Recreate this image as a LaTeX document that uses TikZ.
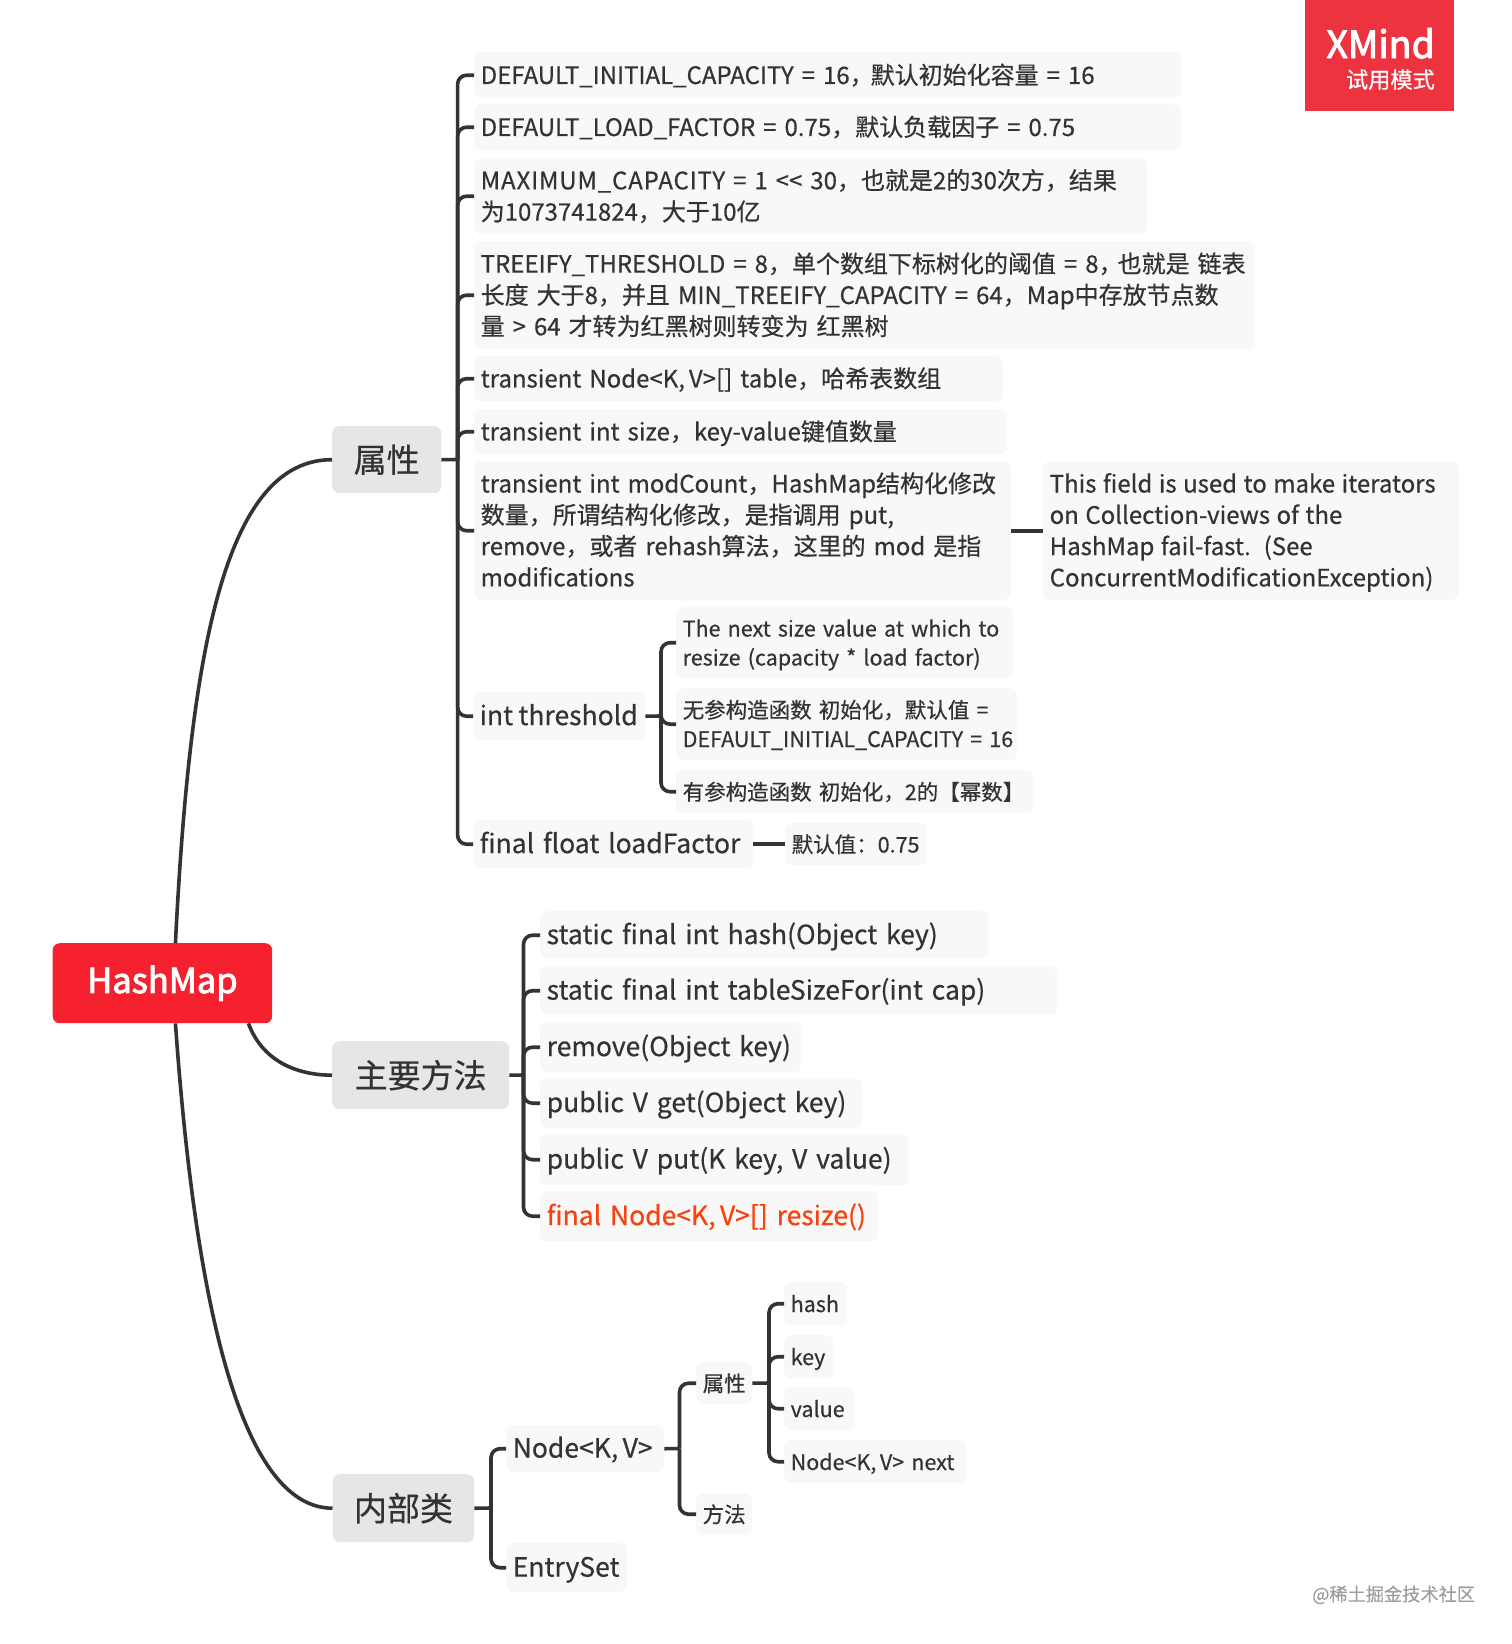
\documentclass[tikz,border=0pt]{standalone}
\usepackage{fontspec}
\setmainfont{Noto Sans CJK SC}[FakeBold=0.5]
\newfontfamily\medfont{Noto Sans CJK SC}[FakeBold=2.5]
\usetikzlibrary{calc}
\definecolor{ink}{HTML}{333333}
\definecolor{lightbox}{HTML}{F8F8F8}
\definecolor{topicbox}{HTML}{E6E6E6}
\definecolor{rootred}{HTML}{F6212F}
\definecolor{xmred}{HTML}{EE3340}
\definecolor{hot}{HTML}{F5420F}
\tikzset{
  basebox/.style={rectangle,rounded corners=7pt,inner xsep=6.5pt,inner ysep=0pt,text=ink},
  item/.style={basebox,fill=lightbox,font=\fontsize{24}{31.3}\selectfont},
  itemb/.style={basebox,fill=lightbox,font=\fontsize{26.5}{32}\selectfont},
  items/.style={basebox,fill=lightbox,font=\fontsize{21.5}{29}\selectfont},
  topic/.style={basebox,fill=topicbox,font=\fontsize{33}{38}\selectfont},
  rootbox/.style={basebox,fill=rootred,text=white,font=\fontsize{34.5}{38}\medfont},
  conn/.style={draw=ink,line width=3.6pt},
  brk/.style={draw=ink,line width=3.6pt,rounded corners=9pt},
}
\def\myskip{.333em}
\newcommand\mybox[7]{%
  \pgfmathsetmacro\bw{#4-#2}\pgfmathsetmacro\bh{#5-#3}\pgfmathsetmacro\tw{#4-#2-13}%
  \node[#6,minimum width=\bw pt,minimum height=\bh pt,anchor=north west] (#1) at (#2,#3)
    {\makebox[\tw pt][l]{\spaceskip=\myskip\relax\vbox{\kern5pt\hbox{\begin{tabular}{@{}l@{}}#7\end{tabular}}}}};}
\newcommand\mytopic[6]{%
  \pgfmathsetmacro\bw{#4-#2}\pgfmathsetmacro\bh{#5-#3}%
  \node[#6,minimum width=\bw pt,minimum height=\bh pt,anchor=north west] (#1) at (#2,#3)}
\begin{document}
\begin{tikzpicture}[x=1pt,y=-1pt]
\useasboundingbox (0,0) rectangle (1512,1644);
% XMind badge
\node[fill=xmred,rectangle,minimum width=149.5pt,minimum height=111pt,anchor=north west,inner sep=0pt] (xm) at (1304.5,0) {};
\node[text=white,anchor=base east,inner sep=0pt,font=\fontsize{37.5}{42}\medfont] (xmt) at (1435,58) {XMind};
\node[text=white,anchor=base east,inner sep=0pt,font=\fontsize{22.2}{25}\selectfont] (xms) at (1435,88) {试用模式};
% root and topics
\mytopic{hm}{52.5}{943}{272}{1023}{rootbox}{HashMap};
\mytopic{attr}{332}{426}{441}{493}{topic}{属性};
\mytopic{meth}{332}{1041}{509}{1109}{topic}{主要方法};
\mytopic{inner}{332.5}{1474}{474}{1542}{topic}{内部类};
% attributes
\mybox{a1}{474}{52}{1181}{98}{item}{DEFAULT\_INITIAL\_CAPACITY = 16，\kern-3pt 默认初始化容量 = 16}
\mybox{a2}{474}{104}{1181}{150}{item}{DEFAULT\_LOAD\_FACTOR = 0.75，默认负载因子 = 0.75}
\mybox{a3}{474}{158}{1147}{234}{item}{{\addfontfeatures{LetterSpace=3.5}MAXIMUM\_CAPACITY} = 1 <{}< 30，也就是2的30次方，结果\\为1073741824，大于10亿}
\mybox{a4}{474}{241}{1255}{349}{item}{TREEIFY\_THRESHOLD = 8，单个数组下标树化的阈值 = 8，\kern-5pt 也就是 链表\\长度 大于8，并且 MIN\_TREEIFY\_CAPACITY = 64，Map中存放节点数\\量 > 64 才转为红黑树则转变为 红黑树}
\mybox{a5}{474}{356}{1003}{401}{item}{transient Node<K,\,V>[] table，哈希表数组}
\mybox{a6}{474}{409}{1007}{454}{item}{transient int size，key-value键值数量}
\mybox{a7}{474}{461}{1011}{600}{item}{transient int modCount，HashMap结构化修改\\数量，所谓结构化修改，是指调用 put,\\remove，或者 rehash算法，这里的 mod 是指\\modifications}
\def\myskip{.27em}
\mybox{a7r}{1043}{461}{1459}{600}{item}{This field is used to make iterators\\on Collection-views of the\\HashMap fail-fast.~~(See\\ConcurrentModificationException)}
\def\myskip{.2em}
\mybox{th}{473}{692}{645}{740}{itemb}{int threshold}
\def\myskip{.333em}
\mybox{t1}{676}{607}{1013}{678}{items}{The next size value at which to\\resize (capacity * load factor)}
\mybox{t2}{676}{688}{1017}{760}{items}{无参构造函数 初始化，默认值 =\\DEFAULT\_INITIAL\_CAPACITY = 16}
\mybox{t3}{676}{770}{1033}{813}{items}{有参构造函数 初始化，2的【幂数】}
\mybox{lf}{473}{820}{753}{868}{itemb}{final float loadFactor}
\mybox{df}{785}{823}{927}{865}{items}{默认值：0.75}
% methods
\mybox{m1}{540}{911}{988}{959}{itemb}{static final int hash(Object key)}
\mybox{m2}{540}{966}{1057}{1015}{itemb}{static final int tableSizeFor(int cap)}
\mybox{m3}{540}{1022}{801}{1072}{itemb}{remove(Object key)}
\mybox{m4}{540}{1078}{862}{1128}{itemb}{public V get(Object key)}
\mybox{m5}{540}{1134}{908}{1185}{itemb}{public V put(K key, V value)}
\mybox{m6}{540}{1191}{878}{1241}{itemb,text=hot}{final Node<K,\,V>[] resize()}
% inner classes
\mybox{nk}{506}{1425}{664}{1472}{itemb}{Node<K,\,V>}
\mybox{es}{506}{1543}{627}{1592}{itemb}{EntrySet}
\mybox{ps}{696}{1362}{752}{1404}{items}{属性}
\mybox{ms}{696}{1493}{752}{1535}{items}{方法}
\mybox{n1}{784}{1282}{847}{1325}{items}{hash}
\mybox{n2}{784}{1335}{833}{1378}{items}{key}
\mybox{n3}{784}{1387}{854}{1430}{items}{value}
\mybox{n4}{784}{1440}{966}{1483}{items}{Node<K,\,V> next}
% watermark
\node[text=black!38,anchor=base west,inner sep=0pt,font=\fontsize{18.2}{22}\selectfont] (wm) at (1312,1601) {@稀土掘金技术社区};
% junction points
\coordinate (tr1) at (457.6,459.5);
\coordinate (tr2) at (523.5,1075);
\coordinate (tr3) at (491,1508);
\coordinate (tr4) at (679.5,1448.5);
\coordinate (tr5) at (769,1383);
\coordinate (tr6) at (661,716);
\coordinate (ha) at ($(hm.north)+(13,0)$);
\coordinate (hb) at ($(hm.south)+(13,0)$);
\coordinate (hc) at ($(hm.south)+(86,0)$);
% main curves
\draw[conn] (ha) .. controls (190,650) and (225,459.5) .. (attr.west);
\draw[conn] (hc) .. controls (262,1060) and (295,1075) .. (meth.west);
\draw[conn] (hb) .. controls (195,1300) and (240,1508) .. (inner.west);
% stubs
\draw[conn] (attr.east) -- (tr1);
\draw[conn] (meth.east) -- (tr2);
\draw[conn] (inner.east) -- (tr3);
\draw[conn] (nk.east) -- (tr4);
\draw[conn] (ps.east) -- (tr5);
\draw[conn] (th.east) -- (tr6);
\draw[conn] (a7.east) -- (a7r.west);
\draw[conn] (lf.east) -- (df.west);
% brackets
\foreach \c in {a1,a2,a3,a4,a5,a6,a7,th,lf} \draw[brk] (tr1) |- (\c.west);
\foreach \c in {m1,m2,m3,m4,m5,m6} \draw[brk] (tr2) |- (\c.west);
\foreach \c in {nk,es} \draw[brk] (tr3) |- (\c.west);
\foreach \c in {ps,ms} \draw[brk] (tr4) |- (\c.west);
\foreach \c in {n1,n2,n3,n4} \draw[brk] (tr5) |- (\c.west);
\foreach \c in {t1,t2,t3} \draw[brk] (tr6) |- (\c.west);
\end{tikzpicture}
\end{document}
